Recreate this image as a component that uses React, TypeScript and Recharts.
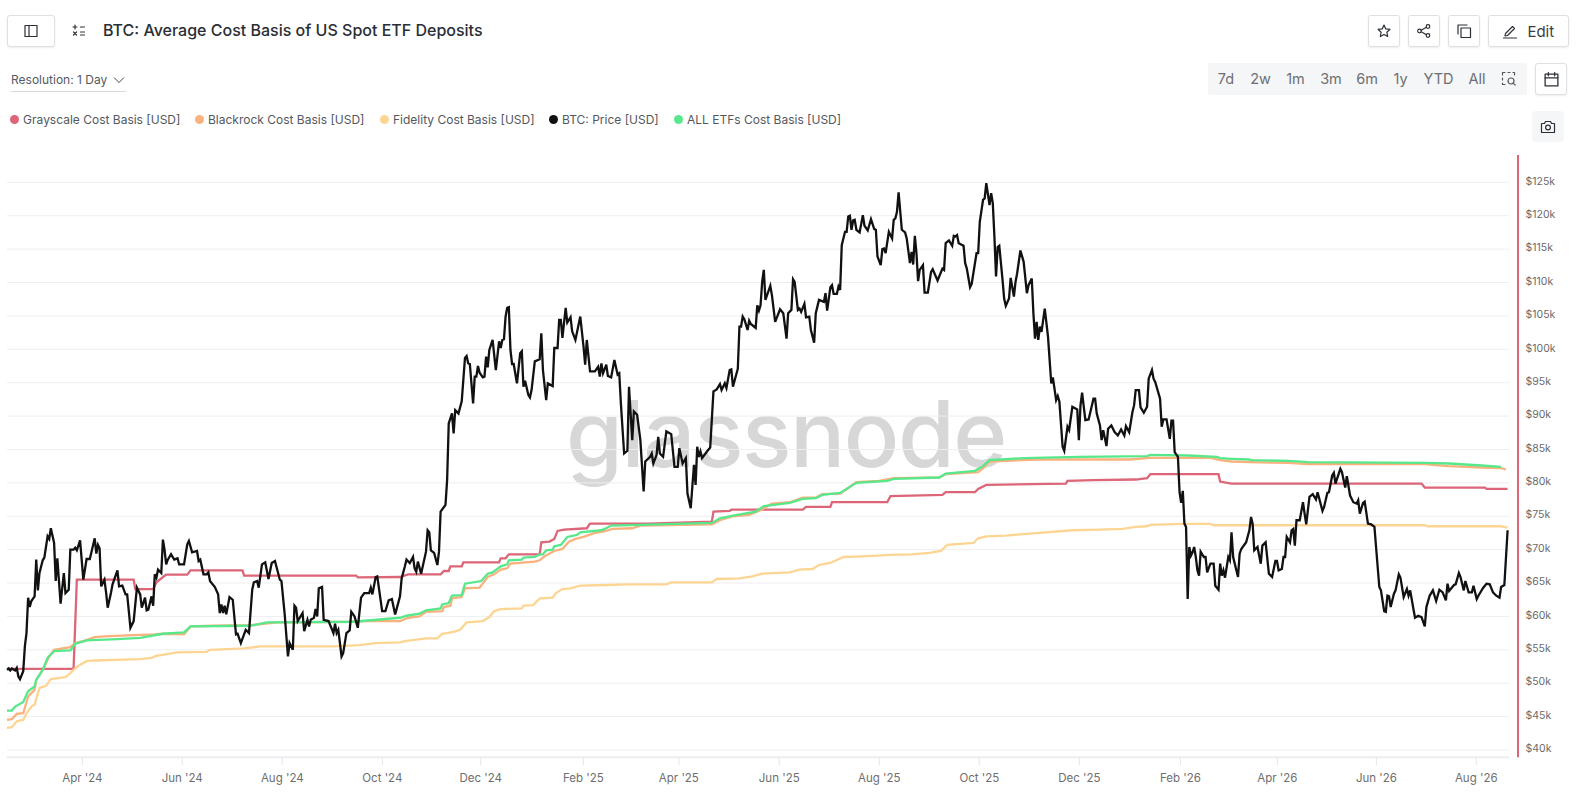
import React from "react";
import { LineChart, Line, XAxis, YAxis, ReferenceLine } from "recharts";

type P = [number, number];

const chartTitle = "BTC: Average Cost Basis of US Spot ETF Deposits";
const rangeLabels = ["7d", "2w", "1m", "3m", "6m", "1y", "YTD", "All"];
const rangeCentres = [1226, 1260.5, 1295.5, 1331, 1367, 1400.5, 1438.5, 1477];

const xTickDays = [46.4, 107.9, 169.5, 231.1, 291.7, 354.9, 413.7, 475.5, 537.1, 598.7, 660.3, 722.5, 782.2, 843.2, 904.7];
const xTickLabels = ["Apr '24", "Jun '24", "Aug '24", "Oct '24", "Dec '24", "Feb '25", "Apr '25", "Jun '25", "Aug '25", "Oct '25", "Dec '25", "Feb '26", "Apr '26", "Jun '26", "Aug '26"];
const yTickValues = [40, 45, 50, 55, 60, 65, 70, 75, 80, 85, 90, 95, 100, 105, 110, 115, 120, 125];

const btcPrice: P[] = [
[0,52],[1,52.2],[2,51.9],[3,52.2],[5,51.9],[6,52.3],[7,51],[8,50.6],[10,51.8],[11,55.5],[12,57.5],[13,62.8],[14,61.4],[15,62.3],[17,63],[18,68.5],[19,63.9],[20,66.5],[22,68.4],[23,68.8],[25,72],[26,71.6],[27,73.2],[29,71],[30,65.3],[31,68.7],[33,61.9],[35,66.5],[36,63.5],[38,64],[39,70],[41,70],[42,70.3],[43,69.9],[45,71.4],[47,65.5],[49,68.6],[51,68.6],[54,71.7],[55,69.4],[56,70.7],[57,70.2],[58,64.5],[60,65.5],[61,63.6],[62,61.3],[64,63.5],[65,64.8],[68,66.9],[69,64.5],[71,64.6],[73,63.3],[74,63.3],[76,58.3],[78,59.3],[80,64.3],[82,63.3],[83,61.3],[85,62.8],[86,60.9],[87,61],[89,63],[90,61.6],[91,66.3],[92,65.8],[93,67],[95,66.5],[96,71.5],[97,70],[98,67.8],[99,68.5],[101,69.3],[103,68.5],[105,68.7],[106,67.8],[109,67.8],[111,70.8],[112,71.3],[114,69.6],[117,69.8],[118,68.3],[119,68.5],[121,66.3],[123,66.3],[124,66.6],[125,65.3],[128,64.4],[130,63.3],[131,60.5],[132,61.8],[133,60.5],[134,61.6],[135,60.3],[137,62.9],[139,62.5],[141,57.3],[142,57.4],[144,56],[147,58],[149,57.5],[151,64],[152,65.1],[154,65.3],[155,64.3],[157,67.8],[159,68.1],[161,65.6],[163,68],[165,68.3],[168,65.5],[169,65.3],[171,60.3],[173,54],[174,56],[176,55],[177,61.6],[178,61.3],[179,59.3],[182,60.5],[183,57.8],[185,59.5],[186,58.5],[187,59.5],[189,59.8],[190,61.1],[191,60],[192,64.2],[194,64.4],[195,59.5],[198,59.3],[201,57.5],[202,58.9],[203,57.5],[204,58],[206,54],[207,54.5],[209,57.5],[211,57.9],[212,60.7],[214,60],[216,58.3],[218,62.8],[220,63.5],[223,63.5],[224,64.3],[225,63.3],[227,65.9],[228,66],[231,60.8],[233,60.8],[235,62.4],[237,62.6],[239,60.3],[242,63],
[243,65.7],[245,67.5],[246,68.5],[248,68],[250,68.9],[251,67.2],[252,66.7],[253,68.2],[255,66.4],[256,67.5],[258,69.7],[259,72.9],[260,72.6],[261,69.9],[263,69.5],[265,67.7],[266,69.7],[267,75.7],[270,76.7],
[271,80.4],[272,88.9],[274,90.4],[275,87.4],[276,90.9],[278,90.4],[280,92.2],[282,98.7],[283,99],[284,97.9],[285,97.8],[287,91.9],[288,95.9],[289,95.9],[290,97.5],[291,96.5],[293,95.8],[294,95.9],[295,98.9],[296,97.3],[297,99.9],[299,101.4],[301,96.9],[303,101.2],[304,100.2],[305,101.4],[306,101.5],[307,104.9],[308,106.2],[309,106.3],[310,99.9],[311,97.8],[312,97.8],[314,94.9],[316,99.4],[317,99.7],[318,94.4],[319,95.3],[321,93.2],[322,92.8],[323,93.9],[325,98.2],[328,98.5],[329,102.4],[330,96.9],[332,92.4],[333,94.9],[336,94.5],[337,100.2],[339,100.2],[340,104.4],[341,104.4],[342,101.7],[344,106.2],[345,104],[347,104.8],[348,102.7],[350,101.4],[353,104.9],[355,100.4],[356,97.7],[357,101.4],[359,96.7],[362,96.7],[364,97.4],[365,95.9],[366,97.9],[367,96.4],[369,97.7],[370,96],[372,95.8],[374,98.4],[376,96.2],[377,96.4],[378,91.9],[380,84.4],[382,84.8],[383,94.4],[385,86.4],[386,90.7],[388,90.2],[390,86.4],[392,78.7],[393,83.2],[396,83.9],[397,84.4],[398,82.9],[400,84.2],[401,86.9],[402,84.4],[404,83.9],[406,87.7],[409,87.3],[411,82.4],[413,82.4],[414,85.2],[416,82.9],[418,83.7],[419,78.4],[421,76.2],[423,82.7],[424,79.7],[425,85.4],[426,83.9],[427,84.7],[428,83.7],[431,84.7],[433,85.3],[435,93.7],[437,94],[439,94.8],[440,93.9],[442,94.9],[443,94.2],[445,96.9],[446,97],[447,94.4],[450,97.1],[451,103.4],
[452,103.4],[453,104.9],[454,104.5],[456,102.9],[457,104.3],[458,103.8],[461,103.2],[462,106.6],[463,105.8],[464,106.6],[465,110.1],[466,111.9],[467,107.4],[470,109.5],[471,108.1],[473,104.1],[476,106],[478,105.4],[480,101.6],[481,105.4],[483,105.9],[484,110.5],[485,110.1],[487,105.9],[488,106.1],[489,105.6],[491,106.8],[492,104.8],[494,104.9],[495,102.9],[497,101],[498,105.4],[500,107.4],[503,107.1],[504,108.4],[505,105.8],[507,109.3],[508,109.6],[509,108.3],[511,108.3],[512,109.4],[513,108.9],[514,115.6],[516,117.6],[517,117.6],[518,119.9],[519,120],[520,117.9],[521,119.3],[522,119.4],[523,117.9],[525,117.5],[527,120.1],[528,118.5],[530,117.8],[532,119.5],[534,118],[535,117.9],[536,113.9],[538,112.6],[539,115],[540,115.1],[541,114.4],[543,117.6],[545,116.6],[546,119.4],[547,119.6],[548,120.6],[549,123.5],[551,117.9],[553,117.5],[554,116.6],[556,112.9],[557,114.6],[558,112.7],[559,117],[560,114.4],[561,110.2],[562,111.9],[564,112.6],[565,108.5],[567,108.5],[569,111.6],[570,112],[573,110.3],[576,112.1],[577,111.9],[578,115.9],[580,116.3],[582,115.5],[583,117],[584,116.9],[585,117.1],[586,115.9],[589,115.5],[590,112.9],[591,112.1],[593,109.3],[594,109.8],[597,114.4],[598,114.4],[599,119.1],[601,122.4],[602,122.6],[603,124.9],[605,121.6],[606,123.4],[607,121.9],[608,116.9],[609,110.9],[610,115.3],[611,115.5],[613,110.4],[614,107.6],[615,106.5],[617,107.6],[618,110.7],[620,107.9],[621,110.1],[622,111.4],[624,114.8],[626,113.1],[628,108.4],[629,109.6],[631,110.6],[632,105.4],[633,101.6],[634,104.1],[635,101.4],[636,103.4],[637,102.6],[639,106.1],[641,101.9],[643,94.9],[644,95.8],[646,92.4],[647,93],[648,92.2],[650,85.4],[651,84.8],[653,88.4],[654,87.9],[656,91.4],[659,91],[660,86.4],[661,91.6],[662,93.5],[664,89.4],[666,89.5],[669,92.6],[670,92.6],[671,90.4],
[673,88.6],[674,86.4],[675,87.9],[677,85.5],[678,88.1],[680,88.6],[682,87.6],[684,87.1],[686,88],[688,87.1],[689,88.5],[691,87.6],[693,90.6],[694,91.6],[695,93.9],[697,93.9],[698,91.3],[700,90.5],[702,91.4],[703,95.6],[705,96.9],[706,95.6],[707,95.1],[710,92.6],[711,88.4],[712,89.5],[714,89.5],[716,86.6],[717,89.3],[718,89.3],[719,84.6],[721,83.9],[722,78.6],[723,77],[724,78.8],[725,73.9],[726,73.4],[727,62.6],[728,70.4],[729,69.1],[730,69.6],[731,70.4],[732,68.9],[733,66.9],[734,66.1],[735,69.7],[737,68.9],[738,68.9],[739,66.6],[741,67.9],[743,67.9],[744,64.6],[746,64],[747,67.9],[748,66.1],[749,66.9],[750,65.8],[752,68.9],[753,68.4],[754,72.6],[755,68.9],[756,67.9],[758,65.9],[759,69.4],[760,70.1],[763,71.1],[765,72.9],[766,74.9],[767,73.9],[768,69.9],[770,70.4],[772,67.9],[773,70.6],[775,71.1],[777,66.4],[779,65.9],[781,68.3],[782,68.3],[783,66.9],[785,67.1],[786,68.9],[787,68.9],[788,71.9],[790,71.1],[791,72.9],[792,73.1],[793,70.6],[794,74.4],[796,74.4],[798,77.1],[799,75.4],[800,73.8],[802,77.9],[804,78.3],[806,77.5],[807,78.6],[810,75.8],[811,76.4],[813,78.5],[814,78.6],[816,81.1],[817,81.5],[818,79.9],[821,82.1],[822,81.6],[824,79.3],[825,81],[827,78.1],[829,77.1],[831,76.9],[832,77.4],[833,75.4],[835,77],[836,77.2],[838,73.9],[840,73.8],[842,73.4],[844,67.4],[845,64.4],[846,63.9],[848,60.8],[849,60.7],[850,63.1],[851,63],[852,61.4],[854,63.4],[855,63.9],[857,66.3],[858,65.8],[860,62.9],[862,64.1],[863,63.1],[864,63.9],[866,61.1],[867,59.8],[869,60.1],[871,59.9],[873,58.5],[874,61.4],[876,63.1],[878,63.9],[880,62.3],[882,64],[884,63.6],[886,62.4],[887,64.9],[888,63.8],[891,64.7],[892,64.8],[894,66.5],[895,65.9],[897,63.9],[898,65.3],[900,63.6],[902,63.6],[903,64.6],[905,62.6],[906,63.1],[909,64.3],[911,64.9],[913,64.8],[915,63.6],[917,63.1],[919,62.8],[920,64.4],[922,64.7],[924,72.9],
];

const grayscaleBasis: P[] = [
[0,52.15],[41,52.15],[43,65.5],[78,65.5],[79,64.1],[90,64.1],[92,65.1],[98,66.25],[111,66.25],[113,66.9],[145,66.9],[146,66.1],[215,66.1],[216,65.85],[242,65.9],[247,66.3],[267,66.3],[269,66.8],[272,66.8],[273,67.5],[280,67.5],[281,68.1],[303,68.1],[304,68.7],[307,68.7],[309,69.3],[328,69.3],[329,71.1],[334,71.2],[337,71.6],[339,72.8],[343,73],[357,73.2],[359,73.9],[395,73.9],[434,74.2],[435,75.7],[445,75.8],[446,76],[490,76],[492,76.4],[507,76.4],[508,77.1],[542,77.1],[544,78],[576,78.2],[578,78.6],[596,78.6],[598,79.1],[603,79.7],[631,79.8],[652,79.9],[653,80.3],[669,80.4],[695,80.5],[702,80.7],[704,81.3],[746,81.3],[747,80.2],[754,79.9],[871,79.9],[873,79.3],[910,79.3],[911,79.1],[924,79.1],
];

const blackrockBasis: P[] = [
[0,44.5],[3,44.6],[6,45.4],[10,45.5],[13,48],[17,49],[18,50.5],[22,52],[26,54],[29,55],[39,55.4],[42,56],[47,56.3],[54,56.9],[60,57],[78,57.2],[91,57.3],[96,57.4],[109,57.3],[113,58.5],[127,58.6],[150,58.7],[158,58.9],[166,59.1],[180,59.1],[211,59.2],[222,59.3],[242,59.3],[247,59.8],[254,60],[258,60.7],[268,60.8],[269,61.4],[273,61.6],[274,62.7],[280,62.9],[282,64.2],[291,64.3],[296,65.9],[300,66.3],[304,67],[308,67.2],[310,67.9],[325,68.2],[328,68.4],[331,69],[337,69.8],[342,70.1],[346,71.2],[350,71.6],[355,71.9],[362,72.5],[367,72.7],[373,73.1],[385,73.2],[390,73.6],[434,73.8],[440,74.5],[447,75],[457,75.2],[464,75.9],[471,76.9],[482,77.1],[490,77.8],[498,77.8],[502,78.3],[513,78.4],[516,78.9],[523,80.1],[537,80.3],[546,80.7],[574,80.8],[578,81.3],[598,81.6],[601,82.2],[605,83.2],[634,83.5],[691,83.5],[704,83.75],[741,83.75],[747,83.4],[754,83.2],[765,83.1],[789,83],[801,82.8],[873,82.8],[878,82.7],[888,82.5],[908,82.3],[920,82.2],[923,82],
];

const fidelityBasis: P[] = [
[0,43.3],[3,43.4],[6,44.3],[10,44.5],[12,45.5],[15,46.5],[17,46.8],[20,49.3],[24,49.6],[27,50.6],[36,50.9],[39,51.5],[41,52],[44,52.6],[49,53.3],[54,53.4],[82,53.6],[89,53.8],[92,54.1],[105,54.6],[123,54.7],[125,55],[146,55.2],[156,55.5],[201,55.5],[217,55.7],[227,56],[242,56.1],[245,56.3],[258,56.7],[265,56.7],[268,57.4],[275,57.7],[279,58],[283,59.1],[293,59.3],[297,59.9],[300,60.8],[304,61.1],[317,61.2],[318,61.6],[324,61.7],[328,62.7],[336,62.8],[338,63.5],[342,64.1],[347,64.2],[353,64.6],[369,64.7],[382,64.8],[406,64.8],[409,65.1],[434,65.1],[437,65.6],[451,65.7],[459,66],[465,66.4],[482,66.6],[488,67],[496,67.1],[500,67.7],[507,68],[515,68.9],[527,69],[544,69.2],[557,69.3],[568,69.5],[575,69.8],[579,70.7],[595,71],[598,71.7],[603,72],[615,72.1],[624,72.3],[656,72.9],[673,73],[687,73.1],[695,73.4],[702,73.5],[704,73.7],[724,73.85],[741,73.85],[743,73.65],[873,73.65],[875,73.5],[920,73.5],[924,73.3],
];

const allEtfBasis: P[] = [
[0,45.9],[3,45.9],[5,46.5],[10,47.2],[13,48.8],[17,49.5],[18,50.5],[22,52],[25,53.8],[29,54.8],[39,54.9],[42,55.9],[49,56.4],[68,56.6],[82,56.8],[96,57.4],[109,57.6],[113,58.5],[150,58.6],[160,59.1],[213,59.2],[242,59.8],[246,60.1],[254,60.4],[258,60.9],[267,61.2],[268,61.8],[272,62],[274,63.1],[280,63.2],[282,64.9],[292,65.3],[296,66.4],[299,66.6],[304,67.5],[308,67.8],[309,68.4],[317,68.5],[318,68.8],[325,68.9],[328,69.3],[330,69.3],[332,69.9],[336,70],[337,70.5],[341,70.7],[345,71.9],[351,72.2],[353,72.6],[366,72.9],[368,73.1],[372,73.6],[390,73.7],[434,74],[439,74.7],[447,75.1],[461,75.7],[466,76.5],[482,77],[490,77.6],[498,77.7],[502,78.2],[513,78.5],[523,80],[542,80.3],[546,80.6],[574,80.8],[578,81.4],[596,81.8],[601,82.5],[605,83.4],[626,83.7],[660,83.9],[702,84],[704,84.2],[727,84.1],[745,83.9],[747,83.7],[754,83.6],[765,83.5],[766,83.4],[789,83.3],[801,83.1],[874,83],[888,82.9],[908,82.6],[920,82.4],
];

const seriesNames = ["Grayscale Cost Basis [USD]", "Blackrock Cost Basis [USD]", "Fidelity Cost Basis [USD]", "BTC: Price [USD]", "ALL ETFs Cost Basis [USD]"];
const seriesColors = ["#dc6678", "#f9b17d", "#fdd592", "#111111", "#57e88c"];
const legendDotX = [14.6, 199.5, 384.5, 553.5, 678.5];

const toRows = (pts: P[]) => pts.map(([d, v]) => ({ d, v }));

const font = "Inter, 'Noto Sans', sans-serif";

const abs = (left: number, top: number, width: number, height: number): React.CSSProperties => ({
  position: "absolute", left, top, width, height, boxSizing: "border-box",
});

const btn = (left: number, top: number, width: number, height: number): React.CSSProperties => ({
  ...abs(left, top, width, height),
  border: "1px solid #dfe0e3", borderRadius: 3, background: "#fff",
  boxShadow: "0 1px 2px rgba(0,0,0,0.08)", display: "flex", alignItems: "center", justifyContent: "center",
});

const Ic = ({ children, size = 16 }: { children: React.ReactNode; size?: number }) => (
  <svg width={size} height={size} viewBox="0 0 16 16" fill="none" stroke="#2b2f36" strokeWidth={1.2} strokeLinecap="round" strokeLinejoin="round">{children}</svg>
);

const XTick = (props: any) => {
  const { x, y, payload } = props;
  const i = xTickDays.indexOf(payload.value);
  return (
    <text x={x} y={y} dy={15} textAnchor="middle" fontFamily={font} fontSize={11.5} fill="#6e6e6e">{xTickLabels[i]}</text>
  );
};

export default function App() {
  return (
    <div style={{ position: "absolute", left: 0, top: 0, width: 1578, height: 803, background: "#fff", fontFamily: font, overflow: "hidden" }}>
      <div style={btn(7, 15, 48, 32)}>
        <Ic><rect x="2" y="2.5" width="12" height="11" /><line x1="6" y1="2.5" x2="6" y2="13.5" /></Ic>
      </div>
      <div style={{ ...abs(71, 22, 16, 16) }}>
        <Ic size={16}><path d="M2 5h4M4 3v4M9.5 5h4M2.5 10l3 3M5.5 10l-3 3M9.5 10h4M9.5 13h4" /></Ic>
      </div>
      <div style={{ position: "absolute", left: 103, top: 20, fontSize: 16, fontWeight: 500, lineHeight: "20px", color: "#2a2e35", whiteSpace: "nowrap" }}>{chartTitle}</div>

      <div style={btn(1368, 15, 31.5, 32)}>
        <Ic><path d="M8 2l1.8 3.9 4.2.5-3.1 2.9.8 4.2L8 11.4l-3.7 2.1.8-4.2L2 6.4l4.2-.5z" /></Ic>
      </div>
      <div style={btn(1408, 15, 31.5, 32)}>
        <Ic><circle cx="3.5" cy="8" r="1.8" /><circle cx="12" cy="3.5" r="1.8" /><circle cx="12" cy="12.5" r="1.8" /><path d="M5.2 7.2l5.2-3M5.2 8.8l5.2 3" /></Ic>
      </div>
      <div style={btn(1448, 15, 31.5, 32)}>
        <Ic><rect x="5" y="5" width="9.5" height="9.5" /><path d="M11 2H2v9" /></Ic>
      </div>
      <div style={{ ...btn(1488, 15, 80.5, 32), color: "#3a3d42", fontSize: 15, gap: 9 }}>
        <Ic><path d="M3.5 10.5l7-7 2 2-7 7-2.5.5zM1.5 15h13" /></Ic>
        <span>Edit</span>
      </div>

      <div style={{ position: "absolute", left: 11, top: 71, width: 115, height: 20, borderBottom: "1px solid #d8d8d8", fontSize: 12, lineHeight: "18px", color: "#555a60", whiteSpace: "nowrap" }}>
        Resolution: 1 Day
        <svg width="12" height="8" viewBox="0 0 12 8" style={{ marginLeft: 6 }} fill="none" stroke="#444" strokeWidth="1"><path d="M1 1.5l5 5 5-5" /></svg>
      </div>

      <div style={{ ...abs(1208, 63, 319, 32), background: "#f5f6f8", borderRadius: 2 }} />
      {rangeLabels.map((t, i) => (
        <div key={t} style={{ position: "absolute", left: rangeCentres[i] - 30, width: 60, top: 69, textAlign: "center", fontSize: 14.5, lineHeight: "20px", color: "#6b6e73" }}>{t}</div>
      ))}
      <div style={{ ...abs(1501, 71, 16, 16) }}>
        <Ic><path d="M1.5 4V1.5H4M7 1.5h2M12 1.5h1.5V4M1.5 7v2M1.5 12v1.5H4" stroke="#55585d" /><circle cx="10" cy="10" r="3" stroke="#55585d" /><path d="M12.2 12.2l2 2" stroke="#55585d" /></Ic>
      </div>
      <div style={btn(1535, 63, 32, 32)}>
        <Ic size={17}><rect x="2" y="3" width="12" height="11" /><path d="M2 6.5h12M5 1.5v3M11 1.5v3" /></Ic>
      </div>
      <div style={{ ...abs(1532, 111, 32, 31), background: "#f5f6f8", borderRadius: 4, display: "flex", alignItems: "center", justifyContent: "center" }}>
        <Ic><path d="M1.5 4.5h3l1-2h5l1 2h3v9h-13z" /><circle cx="8" cy="8.5" r="2.4" /></Ic>
      </div>

      {seriesNames.map((name, i) => (
        <React.Fragment key={name}>
          <div style={{ position: "absolute", left: legendDotX[i] - 4.5, top: 115, width: 9, height: 9, borderRadius: 5, background: seriesColors[i] }} />
          <div style={{ position: "absolute", left: legendDotX[i] + 8.5, top: 110.5, fontSize: 12, lineHeight: "18px", color: "#54585e", whiteSpace: "nowrap" }}>{name}</div>
        </React.Fragment>
      ))}

      <div style={{ position: "absolute", left: 566, top: 388, fontFamily: "Inter, sans-serif", fontWeight: 500, fontSize: 92, lineHeight: "92px", color: "#d7d7d7", whiteSpace: "nowrap", letterSpacing: -1.5 }}>glassnode</div>

      <div style={{ position: "absolute", left: 0, top: 0 }}>
        <LineChart width={1578} height={803} margin={{ top: 155, left: 7, right: 0, bottom: 15.7 }}>
          <XAxis
            type="number"
            dataKey="d"
            domain={[0, 930.4]}
            ticks={xTickDays}
            interval={0}
            height={30}
            axisLine={false}
            tickLine={{ stroke: "#e6e6ea" }}
            tickSize={8}
            tickMargin={2}
            tick={<XTick />}
          />
          <YAxis
            orientation="right"
            type="number"
            domain={[38.9, 129.1]}
            ticks={yTickValues}
            interval={0}
            width={60}
            allowDataOverflow
            axisLine={{ stroke: "#dc6678", strokeWidth: 2 }}
            tickLine={false}
            tickMargin={1.5}
            tickFormatter={(v: number) => `$${v}k`}
            tick={{ fontFamily: font, fontSize: 10.5, fill: "#6a6a6a", dy: -1.5 }}
          />
          {yTickValues.map((v) => (
            <ReferenceLine key={v} segment={[{ x: 0, y: v }, { x: 925, y: v }]} stroke="#eeeef2" strokeWidth={1} />
          ))}
          <ReferenceLine segment={[{ x: 0, y: 38.9 }, { x: 925, y: 38.9 }]} stroke="#ecedf1" strokeWidth={2} ifOverflow="visible" />
          <Line data={toRows(grayscaleBasis)} dataKey="v" name={seriesNames[0]} stroke={seriesColors[0]} strokeWidth={2.3} dot={false} isAnimationActive={false} />
          <Line data={toRows(blackrockBasis)} dataKey="v" name={seriesNames[1]} stroke={seriesColors[1]} strokeWidth={2.3} dot={false} isAnimationActive={false} />
          <Line data={toRows(fidelityBasis)} dataKey="v" name={seriesNames[2]} stroke={seriesColors[2]} strokeWidth={2.3} dot={false} isAnimationActive={false} />
          <Line data={toRows(allEtfBasis)} dataKey="v" name={seriesNames[4]} stroke={seriesColors[4]} strokeWidth={2.3} dot={false} isAnimationActive={false} />
          <Line data={toRows(btcPrice)} dataKey="v" name={seriesNames[3]} stroke={seriesColors[3]} strokeWidth={2.3} dot={false} isAnimationActive={false} />
        </LineChart>
      </div>
    </div>
  );
}
